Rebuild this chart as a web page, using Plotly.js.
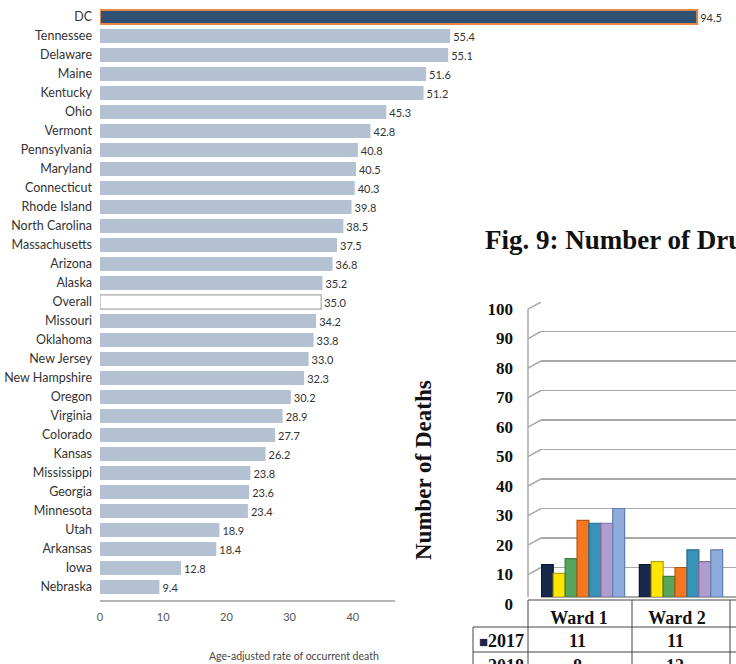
<!DOCTYPE html>
<html>
<head>
<meta charset="utf-8">
<script src="https://cdn.plot.ly/plotly-3.0.1.min.js"></script>
<style>
  html, body { margin: 0; padding: 0; overflow: hidden; background: #ffffff; }
  #chart { width: 736px; height: 664px; }
</style>
</head>
<body>
<div id="chart"></div>
<script>
// Overdose death rates by state (age-adjusted, per 100,000)
const states = ["DC", "Tennessee", "Delaware", "Maine", "Kentucky", "Ohio", "Vermont",
  "Pennsylvania", "Maryland", "Connecticut", "Rhode Island", "North Carolina",
  "Massachusetts", "Arizona", "Alaska", "Overall", "Missouri", "Oklahoma", "New Jersey",
  "New Hampshire", "Oregon", "Virginia", "Colorado", "Kansas", "Mississippi", "Georgia",
  "Minnesota", "Utah", "Arkansas", "Iowa", "Nebraska"];
const rates = [94.5, 55.4, 55.1, 51.6, 51.2, 45.3, 42.8, 40.8, 40.5, 40.3, 39.8, 38.5,
  37.5, 36.8, 35.2, 35.0, 34.2, 33.8, 33.0, 32.3, 30.2, 28.9, 27.7, 26.2, 23.8, 23.6,
  23.4, 18.9, 18.4, 12.8, 9.4];
const rateTicks = [0, 10, 20, 30, 40];

// Fig. 9: deaths by ward and year
const wards = ["Ward 1", "Ward 2"];
const years = ["2017", "2018", "2019", "2020", "2021", "2022", "2023"];
const wardDeaths = {
  "2017": [11, 11],
  "2018": [8, 12],
  "2019": [13, 7],
  "2020": [26, 10],
  "2021": [25, 16],
  "2022": [25, 12],
  "2023": [30, 16]
};
const deathTicks = [0, 10, 20, 30, 40, 50, 60, 70, 80, 90, 100];
const yearColors = ["#17284a", "#ffe600", "#58a55c", "#f6771f", "#3893b8", "#b19dcd", "#8eabdc"];
const yearEdges  = ["#0b1630", "#b8a400", "#3c7a40", "#b8560f", "#256b88", "#7f6d9c", "#5f7eb0"];
const tableRows = ["2017", "2018"];

const W = 736, H = 664;
const px = x => x / W;            // pixel -> paper x
const py = y => (H - y) / H;      // pixel -> paper y

const serif = "Liberation Serif, Times New Roman, serif";
const sans = "Lato, Open Sans, sans-serif";

// State bar colours: DC highlighted, Overall hollow
const fillCols = states.map(s => s === "DC" ? "#2f5274" : (s === "Overall" ? "#ffffff" : "#b3c1d2"));
const lineCols = states.map(s => s === "DC" ? "#e8874a" : (s === "Overall" ? "#a8a8a8" : "#b3c1d2"));
const lineWids = states.map(s => s === "DC" ? 2 : (s === "Overall" ? 1.2 : 0));

const traces = [{
  type: "bar",
  orientation: "h",
  x: rates,
  y: states,
  xaxis: "x",
  yaxis: "y",
  width: 0.74,
  marker: { color: fillCols, line: { color: lineCols, width: lineWids } },
  text: rates.map(v => v.toFixed(1)),
  textposition: "outside",
  cliponaxis: false,
  textfont: { family: sans, size: 11, color: "#333333" },
  hoverinfo: "x+y",
  showlegend: false
}];

years.forEach((yr, i) => {
  traces.push({
    type: "bar",
    name: yr,
    x: wards,
    y: wardDeaths[yr],
    xaxis: "x2",
    yaxis: "y2",
    marker: { color: yearColors[i], line: { color: yearEdges[i], width: 1.2 } },
    showlegend: false
  });
});

// Ward chart geometry (pixels): front edge of the side wall and back wall
const wallFront = 528, wallBack = 541, depthUnits = 2.4;

const gridGrey = "#a9a9a9";
const shapes = [
  // rate axis baseline, only under the ticked part
  { type: "line", xref: "x", yref: "paper", x0: 0, x1: 46.7, y0: py(601), y1: py(601),
    line: { color: "#9c9c9c", width: 1.5 } },
  // front edge of the side wall
  { type: "line", xref: "paper", yref: "y2", x0: px(wallFront), x1: px(wallFront),
    y0: -depthUnits, y1: 100 - depthUnits, line: { color: gridGrey, width: 1.5 } }
];
// side-wall perspective segments for every gridline
deathTicks.forEach(v => shapes.push({
  type: "line", xref: "paper", yref: "y2", x0: px(wallFront), x1: px(wallBack),
  y0: v - depthUnits, y1: v, line: { color: gridGrey, width: 1.5 }
}));

// Table beneath the ward chart
const tblTop = 600, hdrBottom = 627, rowH = 25, hdrLeft = 473;
const ink = "#444";
shapes.push(
  { type: "line", xref: "paper", yref: "paper", x0: px(wallFront), x1: 1, y0: py(tblTop), y1: py(tblTop),
    line: { color: ink, width: 1 } },
  { type: "line", xref: "paper", yref: "paper", x0: px(hdrLeft), x1: 1, y0: py(hdrBottom), y1: py(hdrBottom),
    line: { color: ink, width: 1 } },
  { type: "line", xref: "paper", yref: "paper", x0: px(hdrLeft), x1: 1, y0: py(hdrBottom + rowH), y1: py(hdrBottom + rowH),
    line: { color: ink, width: 1 } },
  { type: "line", xref: "paper", yref: "paper", x0: px(hdrLeft), x1: px(hdrLeft), y0: py(hdrBottom), y1: py(H + 10),
    line: { color: ink, width: 1 } },
  { type: "line", xref: "paper", yref: "paper", x0: px(wallFront), x1: px(wallFront), y0: py(tblTop), y1: py(H + 10),
    line: { color: ink, width: 1 } }
);
[0.5, 1.5].forEach(b => shapes.push({
  type: "line", xref: "x2", yref: "paper", x0: b, x1: b, y0: py(tblTop), y1: py(H + 10),
  line: { color: ink, width: 1 }
}));

const annotations = [
  { text: "Age-adjusted rate of occurrent death", xref: "paper", yref: "paper",
    x: px(294), y: py(656), xanchor: "center", yanchor: "middle", showarrow: false,
    font: { family: sans, size: 10.5, color: "#444" } },
  { text: "<b>Fig. 9: Number of Drug Overdose Deaths by Ward</b>", xref: "paper", yref: "paper",
    x: px(483), y: py(240), xanchor: "left", yanchor: "middle", showarrow: false,
    font: { family: serif, size: 27, color: "#111" } },
  { text: "<b>Number of Deaths</b>", xref: "paper", yref: "paper", textangle: -90,
    x: px(424), y: py(470), xanchor: "center", yanchor: "middle", showarrow: false,
    font: { family: serif, size: 23, color: "#111" } }
];
tableRows.forEach((yr, r) => {
  const yc = hdrBottom + rowH * r + rowH / 2 + 1;
  const ci = years.indexOf(yr);
  annotations.push({
    text: '<span style="color:' + yearColors[ci] + ';font-size:15px">■</span><b>' + yr + '</b>',
    xref: "paper", yref: "paper", x: px(501), y: py(yc), xanchor: "center", yanchor: "middle",
    showarrow: false, font: { family: serif, size: 18, color: "#111" }
  });
  wards.forEach((w, k) => {
    annotations.push({
      text: "<b>" + wardDeaths[yr][k] + "</b>", xref: "x2", yref: "paper",
      x: k, y: py(yc), xshift: -6, xanchor: "center", yanchor: "middle", showarrow: false,
      font: { family: serif, size: 18, color: "#111" }
    });
  });
});

const catPx = 98;                 // ward category spacing in pixels
const x2Start = -(583 - wallBack) / catPx;

const layout = {
  width: W, height: H,
  margin: { l: 0, r: 0, t: 0, b: 0 },
  paper_bgcolor: "#ffffff",
  plot_bgcolor: "rgba(0,0,0,0)",
  barmode: "group",
  bargap: 0.15,
  bargroupgap: 0,
  showlegend: false,
  xaxis: {
    domain: [px(100), 1], range: [0, 636 / 6.32], anchor: "y",
    tickvals: rateTicks, ticktext: rateTicks.map(String),
    showgrid: false, zeroline: false, showline: false, ticks: "",
    ticklabelstandoff: 8,
    tickfont: { family: sans, size: 11, color: "#555" }
  },
  yaxis: {
    domain: [py(601), 1], anchor: "x",
    type: "category", categoryorder: "array", categoryarray: states,
    range: [30.737, -0.895],
    showgrid: false, zeroline: false, showline: false, ticks: "",
    ticklabelstandoff: 7,
    tickfont: { family: sans, size: 12.5, color: "#333" }
  },
  xaxis2: {
    domain: [px(wallBack), 1], anchor: "y2",
    type: "category", categoryorder: "array", categoryarray: wards,
    range: [x2Start, x2Start + (W - wallBack) / catPx],
    showgrid: false, zeroline: false, showline: false, ticks: "",
    ticklabelstandoff: 8, ticklabelshift: -4,
    tickfont: { family: serif, size: 18, color: "#111", weight: "bold" }
  },
  yaxis2: {
    domain: [py(597), py(302)], anchor: "x2",
    range: [0, 100], tickvals: deathTicks,
    showgrid: true, gridcolor: gridGrey, gridwidth: 1.5,
    zeroline: true, zerolinecolor: gridGrey, zerolinewidth: 1.5,
    showline: false,
    ticks: "", ticklabelstandoff: 27, ticklabelshift: 7,
    tickfont: { family: serif, size: 17, color: "#111", weight: "bold" }
  },
  shapes: shapes,
  annotations: annotations
};

Plotly.newPlot("chart", traces, layout, { staticPlot: true, displayModeBar: false });
</script>
</body>
</html>
